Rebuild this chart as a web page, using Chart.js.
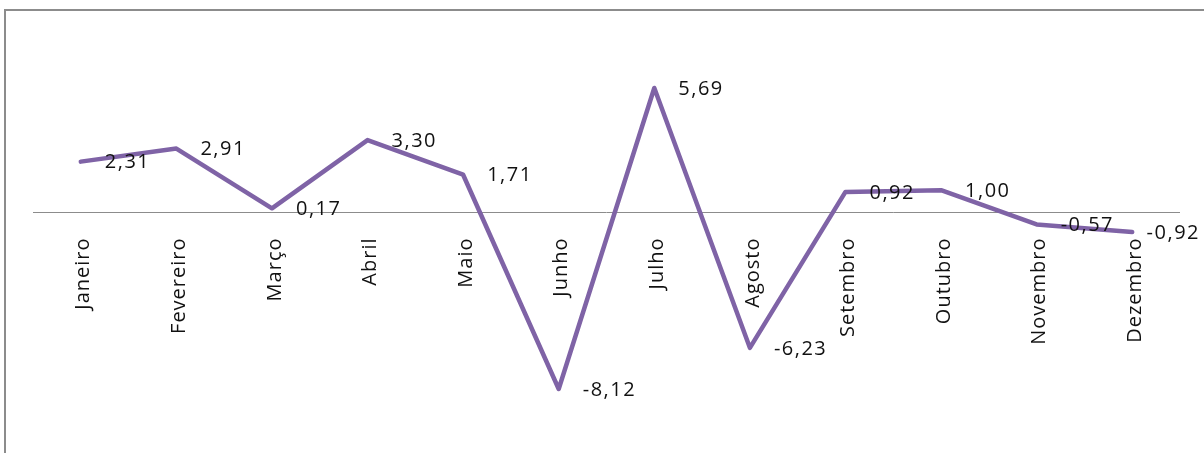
<!DOCTYPE html>
<html>
<head>
<meta charset="utf-8">
<script src="https://cdn.jsdelivr.net/npm/chart.js@4.4.1/dist/chart.umd.min.js"></script>
<style>
  html, body { margin: 0; padding: 0; background: #fff; }
  #wrap { position: relative; width: 1204px; height: 453px; }
  #frame { position: absolute; left: 4px; top: 9px; right: 0; bottom: 0;
           border-left: 2px solid #8c8c8c; border-top: 2px solid #8c8c8c; pointer-events: none; }
  canvas { position: absolute; left: 0; top: 0; }
</style>
</head>
<body>
<div id="wrap">
  <canvas id="c" width="1204" height="453"></canvas>
  <div id="frame"></div>
</div>
<script>
const months = ['Janeiro','Fevereiro','Março','Abril','Maio','Junho','Julho','Agosto','Setembro','Outubro','Novembro','Dezembro'];
const values = [2.31, 2.91, 0.17, 3.30, 1.71, -8.12, 5.69, -6.23, 0.92, 1.00, -0.57, -0.92];

const FONT = '20px "Open Sans"';

const overlay = {
  id: 'overlay',
  afterDatasetsDraw(chart) {
    const ctx = chart.ctx;
    ctx.save();
    ctx.font = FONT;
    ctx.letterSpacing = '1.5px';
    ctx.fillStyle = '#111';
    ctx.textAlign = 'left';
    ctx.textBaseline = 'middle';
    const meta = chart.getDatasetMeta(0);
    meta.data.forEach((pt, i) => {
      const txt = values[i].toFixed(2).replace('.', ',');
      const w = ctx.measureText(txt).width;
      let x = pt.x + 24;
      if (x + w > chart.width - 4) x = chart.width - 4 - w;
      ctx.fillText(txt, x, pt.y + 1);
    });
    ctx.restore();
  },
  beforeDatasetsDraw(chart) {
    const ctx = chart.ctx;
    const xs = chart.scales.x, ys = chart.scales.y;
    const zeroY = Math.round(ys.getPixelForValue(0)) + 0.5;
    ctx.save();
    ctx.strokeStyle = '#8c8c8c';
    ctx.lineWidth = 1;
    ctx.beginPath();
    ctx.moveTo(chart.chartArea.left, zeroY);
    ctx.lineTo(chart.chartArea.right, zeroY);
    ctx.stroke();
    ctx.font = FONT;
    ctx.letterSpacing = '1px';
    ctx.fillStyle = '#111';
    ctx.textAlign = 'right';
    ctx.textBaseline = 'middle';
    months.forEach((m, i) => {
      const x = xs.getPixelForValue(i) + 3;
      ctx.save();
      ctx.translate(x, zeroY + 25);
      ctx.rotate(-Math.PI / 2);
      ctx.fillText(m, 0, 0);
      ctx.restore();
    });
    ctx.restore();
  }
};

new Chart(document.getElementById('c'), {
  type: 'line',
  data: {
    labels: months,
    datasets: [{
      data: values,
      borderColor: '#7F63A6',
      borderWidth: 4.5,
      borderJoinStyle: 'round',
      borderCapStyle: 'round',
      pointRadius: 0,
      tension: 0,
      fill: false
    }]
  },
  options: {
    responsive: false,
    animation: false,
    events: [],
    layout: { padding: { left: 33, right: 24, top: 37.6, bottom: 23 } },
    plugins: { legend: { display: false }, tooltip: { enabled: false } },
    scales: {
      x: { type: 'category', offset: true, display: false },
      y: { min: -10, max: 8, display: false }
    }
  },
  plugins: [overlay]
});
</script>
</body>
</html>
